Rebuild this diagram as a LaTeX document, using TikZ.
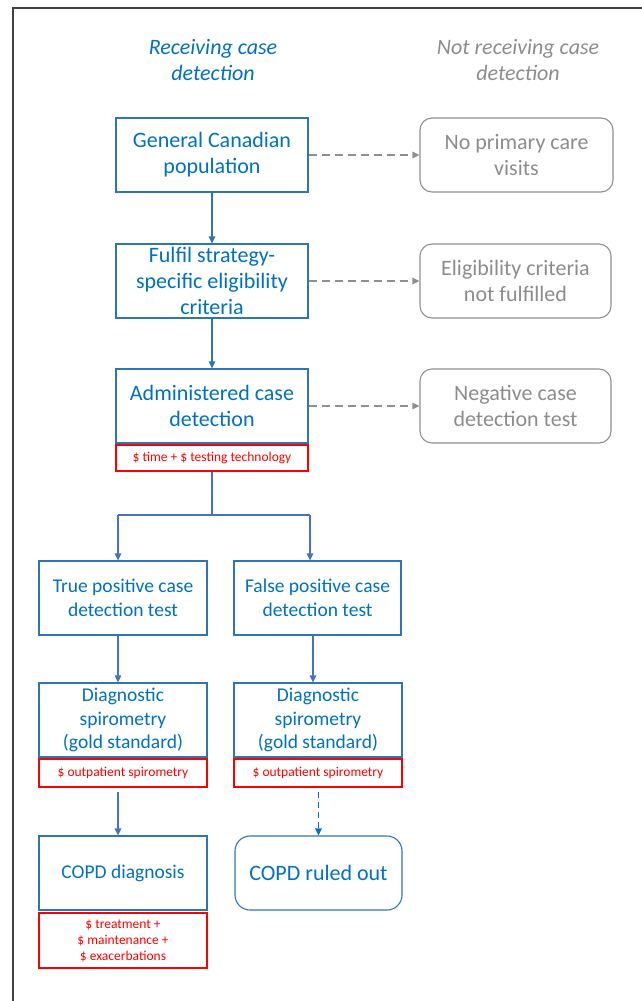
\documentclass[tikz,border=0pt]{standalone}
\usepackage{fontspec}
\setmainfont{Carlito}
\usetikzlibrary{arrows.meta}
\definecolor{boxblue}{HTML}{2E75B6}
\definecolor{txtblue}{HTML}{0070C0}
\definecolor{arrblue}{HTML}{4472C4}
\definecolor{greytxt}{HTML}{8C8C8C}
\definecolor{greyline}{HTML}{8F8F8F}
\definecolor{costred}{HTML}{FF0000}
\definecolor{framegrey}{HTML}{404040}
\tikzset{
  big/.style={font=\fontsize{22}{26}\selectfont},
  mid/.style={font=\fontsize{19.5}{23.5}\selectfont},
  small/.style={font=\fontsize{13.5}{16}\selectfont},
  flowbox/.style={draw=boxblue, line width=1.1pt, text=txtblue, align=center,
    inner sep=0pt, minimum height=74pt},
  greybox/.style={draw=greyline, line width=1.1pt, text=greytxt, align=center,
    rounded corners=12pt, inner sep=0pt, minimum height=74pt, big},
  costbox/.style={draw=costred, line width=1.1pt, text=costred, align=center,
    inner sep=0pt, small},
  header/.style={align=center, font=\fontsize{22}{26}\selectfont\itshape},
  flow/.style={draw=boxblue, line width=1.1pt, -{Triangle[length=7pt,width=6.5pt]}},
  flowlow/.style={draw=arrblue, line width=1.1pt},
  flowlowarr/.style={flowlow, -{Triangle[length=7pt,width=6.5pt]}},
  skip/.style={draw=greyline, line width=1.2pt, dash pattern=on 8pt off 5pt,
    -{Triangle[length=7pt,width=6.5pt]}},
}
\begin{document}
\begin{tikzpicture}[x=1pt,y=-1pt]
\useasboundingbox (0,0) rectangle (642,1001);
% outer frame: top and left rules
\draw[framegrey, line width=1.3pt] (13,1001) -- (13,8) -- (642,8);

% column headings
\node[header, text=txtblue] (hL) at (213,60) {Receiving case\\detection};
\node[header, text=greytxt] (hR) at (518,60) {Not receiving case\\detection};

% main column
\node[flowbox, big, minimum width=192pt] (gen) at (212,155) {General Canadian\\population};
\node[flowbox, big, minimum width=192pt] (elig) at (212,281) {Fulfil strategy-\\specific eligibility\\criteria};
\node[flowbox, big, minimum width=192pt] (adm) at (212,406) {Administered case\\detection};
\node[costbox, minimum width=192pt, minimum height=26pt] (admc) at (212,458) {\$ time + \$ testing technology};

% excluded groups
\node[greybox, minimum width=193pt] (nopc) at (516.5,155) {No primary care\\visits};
\node[greybox, minimum width=191pt] (nofe) at (515.5,281) {Eligibility criteria\\not fulfilled};
\node[greybox, minimum width=191pt] (neg) at (515.5,406) {Negative case\\detection test};

% test outcomes
\node[flowbox, mid, minimum width=168pt] (tp) at (123,598) {True positive case\\detection test};
\node[flowbox, mid, minimum width=167pt] (fp) at (317.5,598) {False positive case\\detection test};

\node[flowbox, mid, minimum width=168pt] (ds1) at (123,720) {Diagnostic\\spirometry\\(gold standard)};
\node[costbox, minimum width=168pt, minimum height=28pt] (ds1c) at (123,773) {\$ outpatient spirometry};
\node[flowbox, mid, minimum width=168pt] (ds2) at (318,720) {Diagnostic\\spirometry\\(gold standard)};
\node[costbox, minimum width=168pt, minimum height=28pt] (ds2c) at (318,773) {\$ outpatient spirometry};

\node[flowbox, mid, minimum width=168pt] (dx) at (123,873) {COPD diagnosis};
\node[costbox, minimum width=168pt, minimum height=55pt] (dxc) at (123,940.5) {\$ treatment +\\\$ maintenance +\\\$ exacerbations};
\node[flowbox, big, minimum width=167pt, rounded corners=15pt] (out) at (318.5,873) {COPD ruled out};

% main chain
\draw[flow] (gen) -- (elig);
\draw[flow] (elig) -- (adm);

% exits to the right
\draw[skip] (gen) -- (nopc);
\draw[skip] (elig) -- (nofe);
\draw[skip] (adm) -- (neg);

% branch after testing
\coordinate (j) at (212,515);
\coordinate (jL) at (118,515);
\coordinate (jR) at (310,515);
\draw[flowlow] (admc.south) -- (j);
\draw[flowlow] (jL) -- (jR);
\draw[flowlowarr] (jL) -- (jL |- tp.north);
\draw[flowlowarr] (jR) -- (jR |- fp.north);

% lower chains
\coordinate (tpL) at (118,635);
\coordinate (fpR) at (313,635);
\draw[flowlowarr] (tpL) -- (tpL |- ds1.north);
\draw[flowlowarr] (fpR) -- (fpR |- ds2.north);
\coordinate (cL) at (118,792);
\draw[flowlowarr] (cL) -- (cL |- dx.north);
\coordinate (cR) at (318.5,792);
\draw[draw=txtblue, line width=1.1pt, dash pattern=on 6pt off 4pt,
  -{Triangle[length=7pt,width=6.5pt]}] (cR) -- (out.north);
\end{tikzpicture}
\end{document}
